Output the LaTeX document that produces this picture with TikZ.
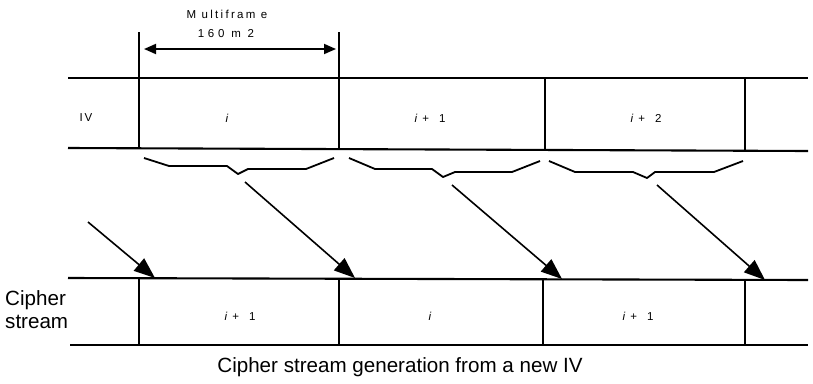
\documentclass[tikz,border=0pt]{standalone}
\usepackage{fontspec}
\setmainfont{Liberation Sans}
\newfontfamily\spacedfont[LetterSpace=20]{Liberation Sans}
\newfontfamily\widefont[LetterSpace=32]{Liberation Sans}
\usetikzlibrary{arrows.meta}
\begin{document}
\begin{tikzpicture}[x=1pt,y=-1pt,
  band/.style={line width=2.1pt},
  sep/.style={line width=1.9pt},
  brace/.style={line width=1.8pt, line join=bevel},
  feed/.style={line width=1.6pt,-{Triangle[length=21pt,width=16pt]}},
  dim/.style={line width=1.8pt,{Triangle[length=12pt,width=10pt]}-{Triangle[length=12pt,width=10pt]}},
  small/.style={inner sep=0pt,font=\fontsize{11.5}{13}\selectfont},
  big/.style={inner sep=0pt,font=\fontsize{20.6}{23}\selectfont}]
\useasboundingbox (0,0) rectangle (813,383);

% top band
\draw[band] (68,78) -- (808,78);
\draw[band] (68,148) -- (808,151);
\draw[sep] (139,32) -- (139,148);
\draw[sep] (339,32) -- (339,149);
\draw[sep] (545,78) -- (545,150);
\draw[sep] (745,78) -- (745,150);

% dimension
\coordinate (dl) at (139,49);
\coordinate (dr) at (339,49);
\draw[dim, shorten <=5pt, shorten >=3pt] (dl) -- (dr);
\node[small, anchor=base] (mf) at (227,18) {\spacedfont M ultifram e};
\node[small, anchor=base] (len) at (226,37) {\widefont 160 m 2};

% top labels
\node[small] (iv) at (86,118) {I\,V};
\node[small] (t0) at (227,118) {\textit{i}};
\node[small] (t1) at (430,118) {\textit{i}\hspace{5pt}+\hspace{10pt}1};
\node[small] (t2) at (646,118) {\textit{i}\hspace{5pt}+\hspace{10pt}2};

% braces
\draw[brace] (144,158) -- (169,166) -- (227,166) -- (238,174) -- (248,169) -- (306,169) -- (334,158);
\draw[brace] (349,158) -- (375,169) -- (432,169) -- (443,177) -- (455,172) -- (512,172) -- (540,161);
\draw[brace] (549,161) -- (575,172) -- (633,172) -- (647,178) -- (655,172) -- (714,172) -- (743,161);

% bottom band
\draw[band] (68,278) -- (808,280);
\draw[band] (70,345) -- (808,345);
\draw[sep] (139,279) -- (139,345);
\draw[sep] (339,279) -- (339,345);
\draw[sep] (543,280) -- (543,345);
\draw[sep] (745,280) -- (745,345);

% feed arrows
\coordinate (s0) at (88,222);
\coordinate (s1) at (245,182);
\coordinate (s2) at (452,185);
\coordinate (s3) at (657,185);
\coordinate (e0) at (155,278);
\coordinate (e1) at (355,278);
\coordinate (e2) at (562,279);
\coordinate (e3) at (765,280);
\draw[feed] (s0) -- (e0);
\draw[feed] (s1) -- (e1);
\draw[feed] (s2) -- (e2);
\draw[feed] (s3) -- (e3);

% bottom labels
\node[small] (b0) at (240,316) {\textit{i}\hspace{5pt}+\hspace{10pt}1};
\node[small] (b1) at (430,316) {\textit{i}};
\node[small] (b2) at (638,316) {\textit{i}\hspace{5pt}+\hspace{10pt}1};

\node[big, anchor=west, align=left] (cs) at (5,310) {Cipher\\stream};
\node[big, anchor=base] (cap) at (400,372) {Cipher stream generation from a new IV};
\end{tikzpicture}
\end{document}
